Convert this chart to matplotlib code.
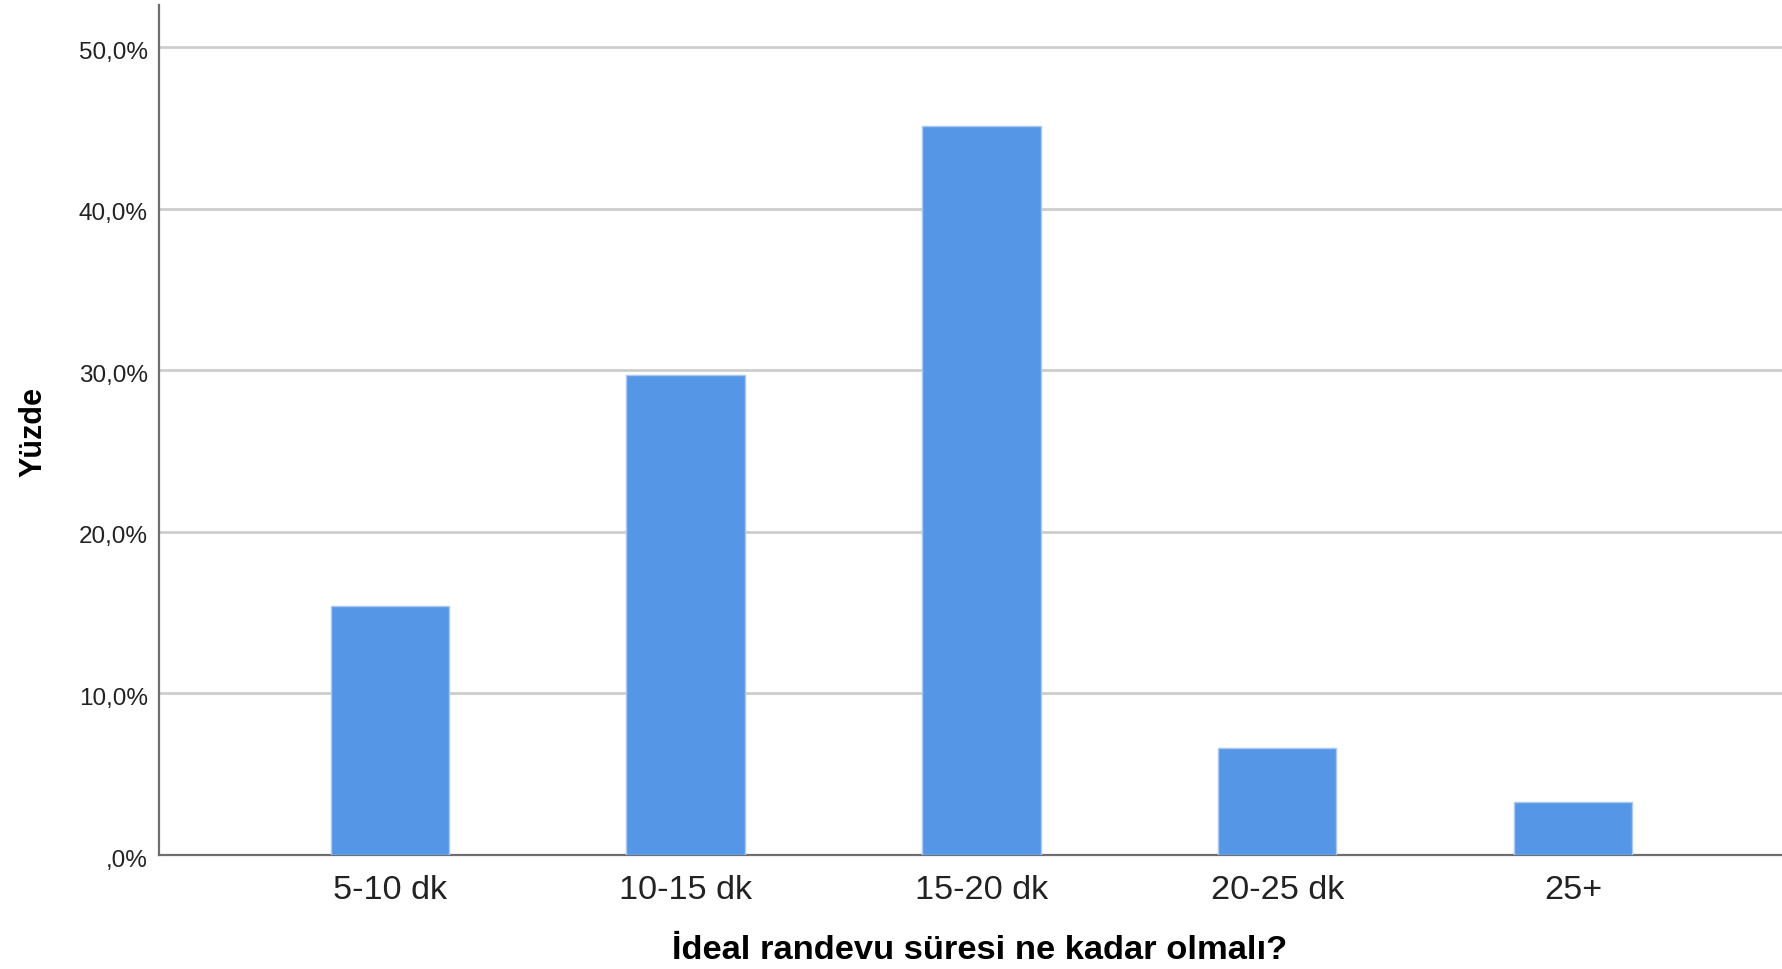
import matplotlib.pyplot as plt
import matplotlib.transforms as mtransforms
import numpy as np

plt.rcParams['font.family'] = ['Liberation Sans', 'DejaVu Sans']

categories = ['5-10 dk', '10-15 dk', '15-20 dk', '20-25 dk', '25+']
percent = [15.4, 29.7, 45.1, 6.6, 3.3]
yticks = [0, 10, 20, 30, 40, 50]
ytick_labels = [',0%', '10,0%', '20,0%', '30,0%', '40,0%', '50,0%']

fig = plt.figure(figsize=(17.83, 9.69), dpi=100)
ax = fig.add_axes([159 / 1783, 1 - 855 / 969, 1 - 159 / 1783, 850 / 969])

x = np.arange(len(categories))
ax.bar(x, percent, width=0.4, color='#5596e6', edgecolor='#a9c9f1', linewidth=1, zorder=3)

ax.set_xlim(-0.78, 4.71)
ax.set_ylim(0, 52.6)
ax.set_yticks(yticks)
ax.set_yticklabels(ytick_labels)
ax.set_xticks(x)
ax.set_xticklabels(categories)
ax.tick_params(axis='y', length=0, pad=8, labelsize=17.5, labelcolor='#222222')
ax.tick_params(axis='x', length=0, pad=14.5, labelsize=24.7, labelcolor='#222222')

# y tick labels sit a little below their gridlines
shift = mtransforms.ScaledTranslation(0, -3 / 100, fig.dpi_scale_trans)
for lbl in ax.get_yticklabels():
    lbl.set_transform(lbl.get_transform() + shift)

ax.grid(True, axis='y', color='#cdcdcd', linewidth=2, zorder=0)
ax.set_axisbelow(True)

for s in ['top', 'right']:
    ax.spines[s].set_visible(False)
for s in ['left', 'bottom']:
    ax.spines[s].set_color('#6e6e6e')
    ax.spines[s].set_linewidth(1.6)

ax.set_ylabel('Yüzde', fontsize=22, fontweight='bold')
ax.yaxis.set_label_coords(-0.077, 0.4976)
ax.yaxis.label.set_va('center')

ax.set_xlabel('İdeal randevu süresi ne kadar olmalı?', fontsize=24.8, fontweight='bold')
ax.xaxis.set_label_coords(0.5055, -0.1125)
ax.xaxis.label.set_va('center')

fig.savefig('out.png', dpi=100, facecolor='white')
